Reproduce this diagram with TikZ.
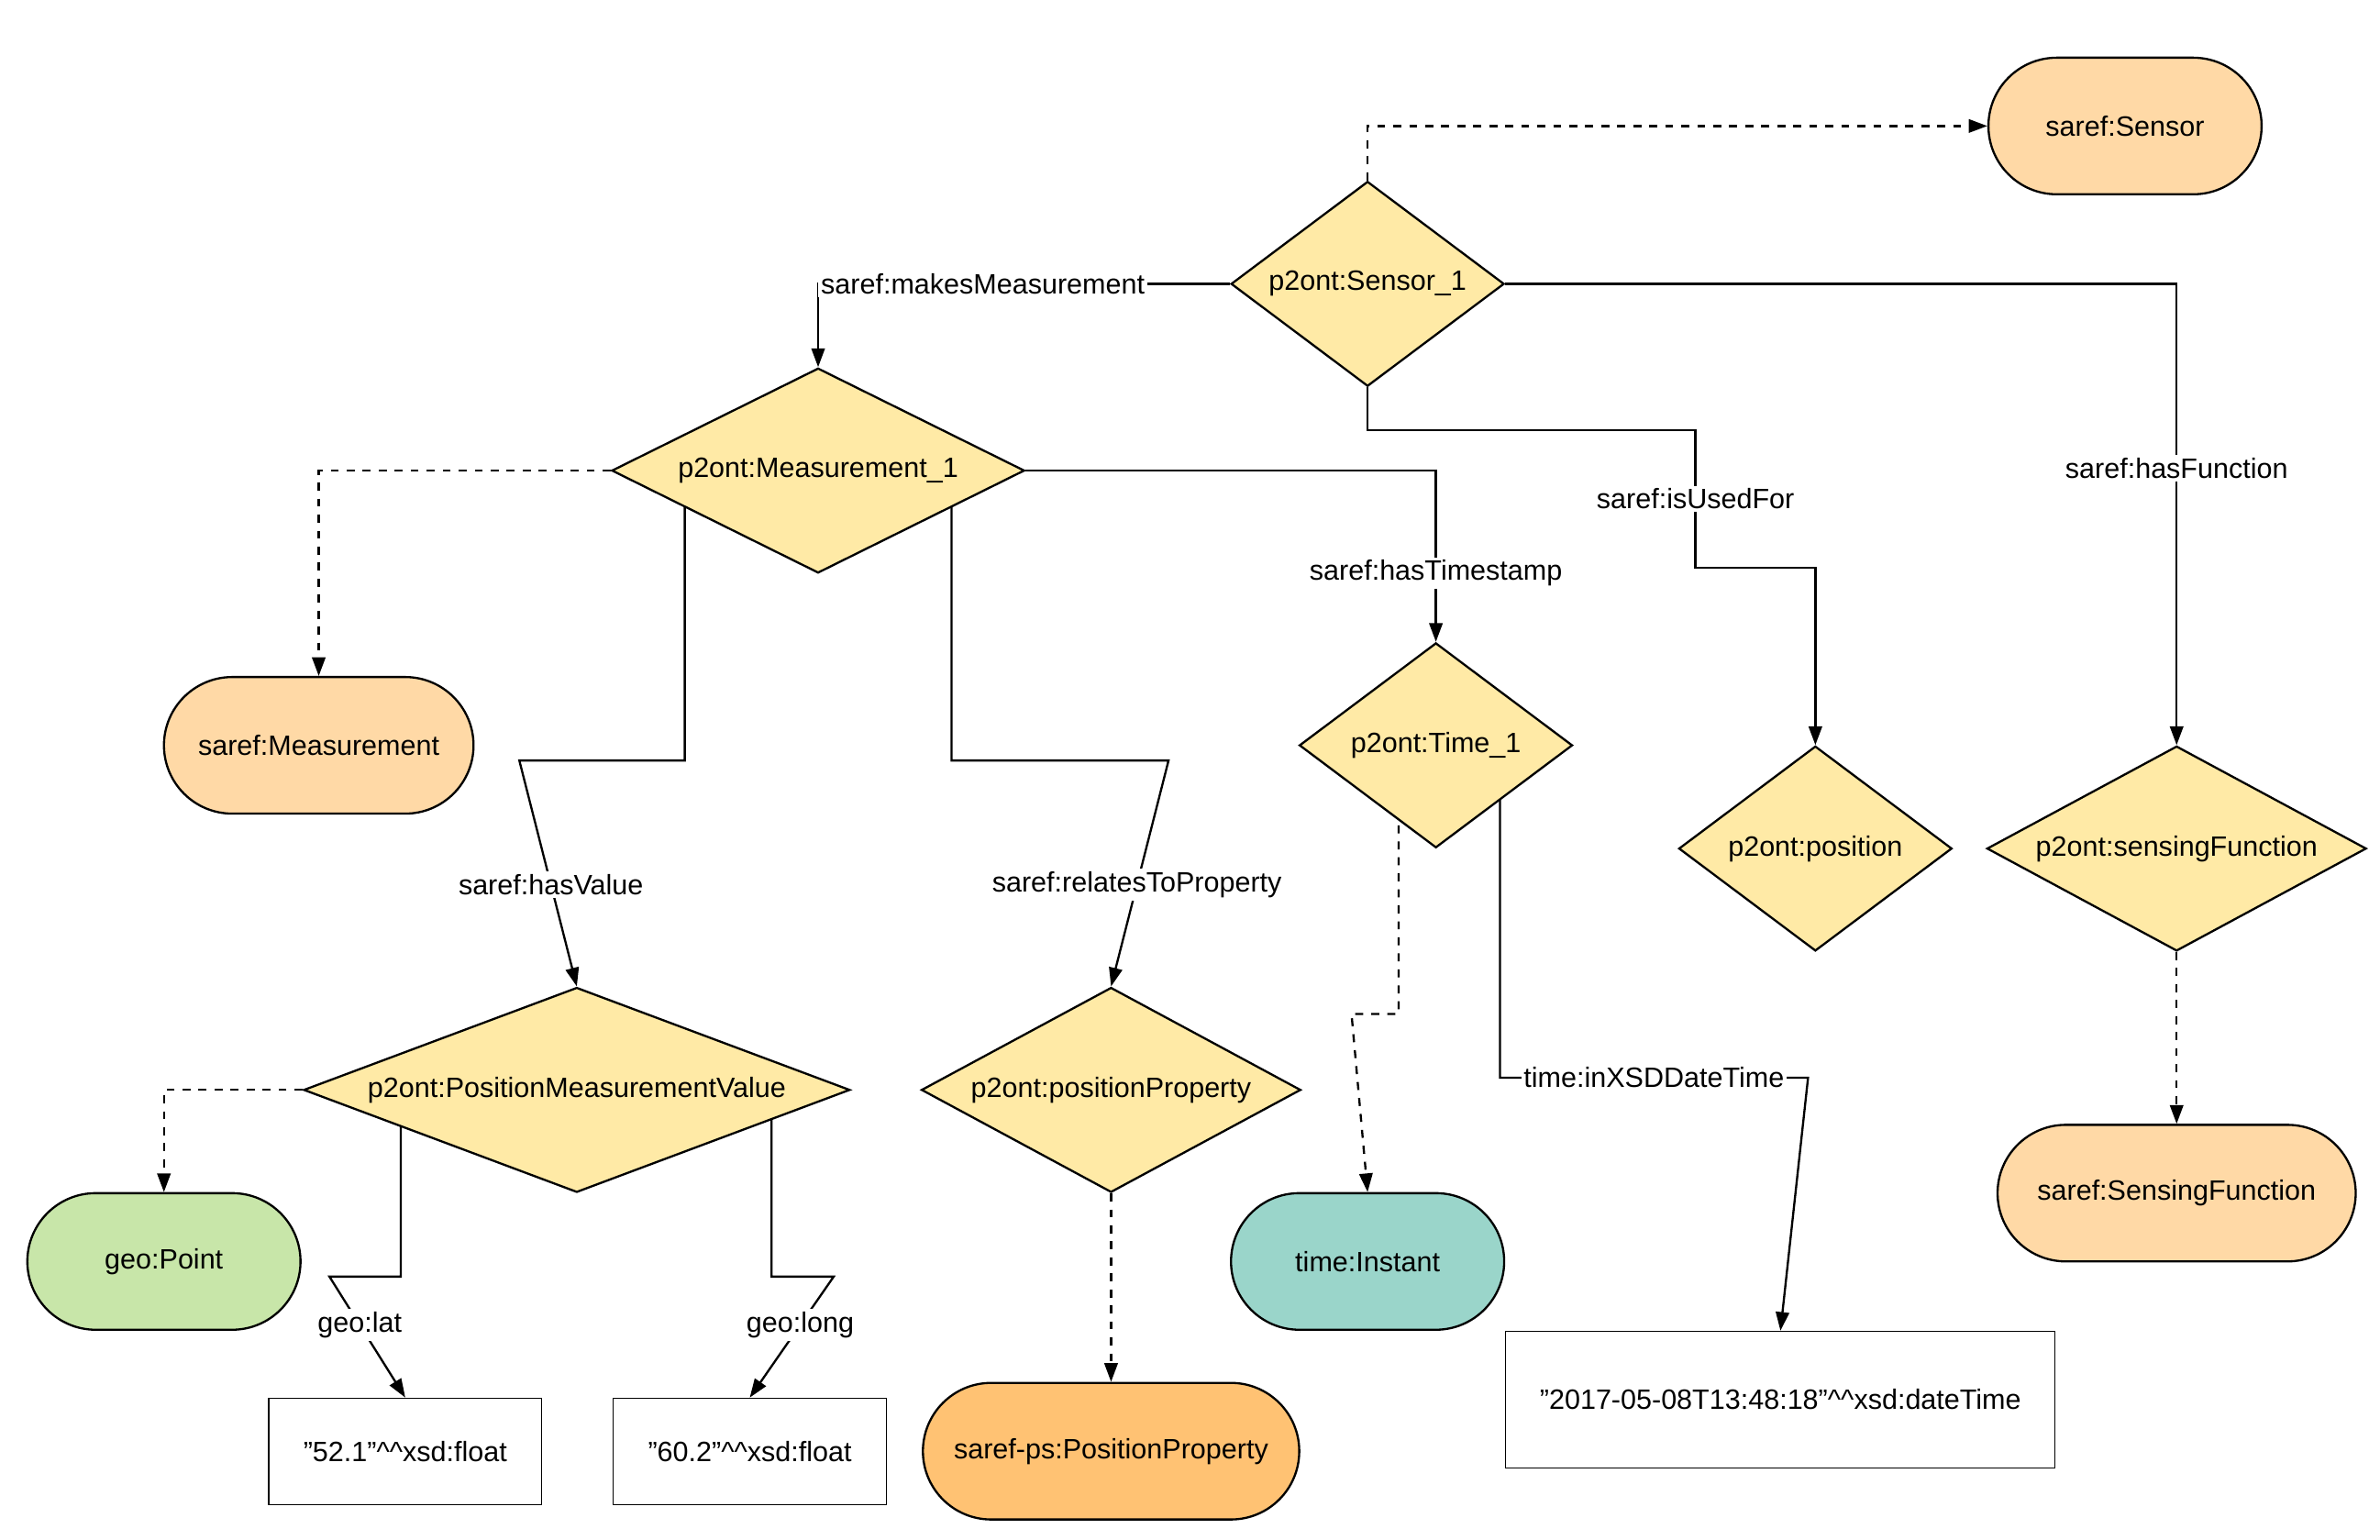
\documentclass[tikz,border=0pt]{standalone}
\usepackage{fontspec}
\setmainfont{Liberation Sans}
\usetikzlibrary{arrows.meta,shapes.geometric}
\pgfdeclarelayer{bg}
\pgfsetlayers{bg,main}
\definecolor{dia}{HTML}{FFEAA6}
\definecolor{peach}{HTML}{FFD9A6}
\definecolor{geo}{HTML}{C8E6A9}
\definecolor{tim}{HTML}{9AD5CA}
\definecolor{ps}{HTML}{FFC273}
\tikzset{
  every node/.style={font=\fontsize{10.5}{12}\selectfont},
  dia/.style={diamond,draw,thick,fill=dia,inner sep=0pt,minimum width=3.6cm,minimum height=2.7cm},
  cls/.style={draw,thick,rounded corners=0.9cm,minimum height=1.8cm,minimum width=3.6cm},
  lit/.style={draw,minimum height=1.4cm,minimum width=3.6cm},
  lab/.style={fill=white,inner sep=1pt},
  rel/.style={thick,->},
  typ/.style={thick,dashed,->}
}
\begin{document}
\begin{tikzpicture}[x=0.02cm,y=-0.02cm,>={Triangle[length=7pt,width=5pt]}]
\useasboundingbox (0,0) rectangle (1568,1014);

% classes
\node[cls,fill=peach] (sensor) at (1400,83) {saref:Sensor};
\node[cls,fill=peach,minimum width=4.08cm] (meas) at (210,491) {saref:Measurement};
\node[cls,fill=geo] (point) at (108,831) {geo:Point};
\node[cls,fill=tim] (instant) at (901,831) {time:Instant};
\node[cls,fill=peach,minimum width=4.72cm] (sensfun) at (1434,786) {saref:SensingFunction};
\node[cls,fill=ps,minimum width=4.96cm] (posprop) at (732,956) {saref-ps:PositionProperty};

% individuals
\node[dia,label=center:p2ont:Sensor\_1] (s1) at (901,187) {};
\node[dia,minimum width=5.44cm,label=center:p2ont:Measurement\_1] (m1) at (539,310) {};
\node[dia,label=center:p2ont:Time\_1] (t1) at (946,491) {};
\node[dia,label=center:p2ont:position] (pos) at (1196,559) {};
\node[dia,minimum width=5cm,label=center:p2ont:sensingFunction] (sf) at (1434,559) {};
\node[dia,minimum width=7.2cm,label=center:p2ont:PositionMeasurementValue] (pmv) at (380,718) {};
\node[dia,minimum width=5cm,label=center:p2ont:positionProperty] (pp) at (732,718) {};

% literals
\node[lit] (lat) at (267,956) {"52.1"\^{}\^{}xsd:float};
\node[lit] (long) at (494,956) {"60.2"\^{}\^{}xsd:float};
\node[lit,minimum width=7.24cm,minimum height=1.8cm] (dt) at (1173,922) {"2017-05-08T13:48:18"\^{}\^{}xsd:dateTime};

\begin{pgfonlayer}{bg}
\draw[typ] (s1.north) |- (sensor.west);
\draw[rel] (s1.west) -| node[lab,pos=0.3] {saref:makesMeasurement} (m1.north);
\draw[rel] (s1.east) -| node[lab,pos=0.7] {saref:hasFunction} (sf.north);
\draw[rel] (s1.south) -- ++(0,28) -| node[lab,pos=0.75] {saref:isUsedFor} ++(216,91) -| (pos.north);
\draw[typ] (m1.west) -| (meas.north);
\draw[rel] (m1.east) -| node[lab,pos=0.8] {saref:hasTimestamp} (t1.north);
\draw[rel] ([xshift=-50]m1.center) |- ++(-109,191) -- node[lab,pos=0.55] {saref:hasValue} (pmv.north);
\draw[rel] ([xshift=50]m1.center) |- ++(143,191) -- node[lab,pos=0.55] {saref:relatesToProperty} (pp.north);
\draw[typ] ([xshift=-14]t1.center) |- ++(-31,177) -- (instant.north);
\draw[rel] ([xshift=24]t1.center) |- node[lab,pos=0.75] {time:inXSDDateTime} ++(203,219) -- (dt.north);
\draw[typ] (sf.south) -- (sensfun.north);
\draw[typ] (pmv.west) -| (point.north);
\draw[rel] ([xshift=-66]pmv.center) |- ++(-47,123) -- node[lab,pos=0.4] {geo:lat} (lat.north);
\draw[rel] ([xshift=73]pmv.center) |- ++(41,123) -- node[lab,pos=0.4] {geo:long} (long.north);
\draw[typ] (pp.south) -- (posprop.north);
\end{pgfonlayer}
\end{tikzpicture}
\end{document}
